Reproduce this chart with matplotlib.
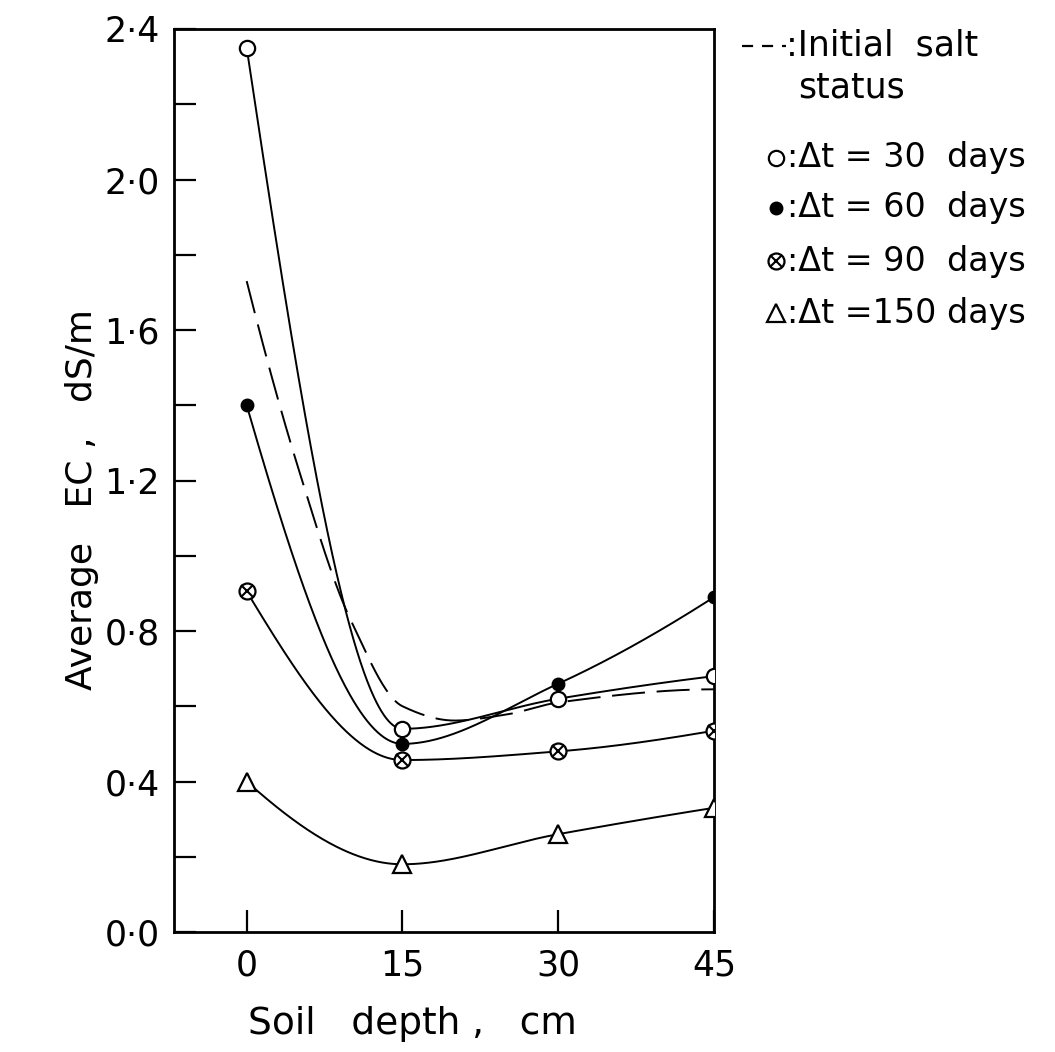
import numpy as np
import matplotlib
matplotlib.use("Agg")
import matplotlib.pyplot as plt
from matplotlib.lines import Line2D
from matplotlib.ticker import FixedLocator, FixedFormatter, MultipleLocator

plt.rcParams['font.family'] = ['DejaVu Sans']

# Soil depth (cm) and average EC (dS/m) after each time interval
depth = [0, 15, 30, 45]
ec_30_days = [2.35, 0.54, 0.62, 0.68]
ec_60_days = [1.40, 0.50, 0.66, 0.89]
ec_90_days = [0.905, 0.457, 0.48, 0.535]
ec_150_days = [0.40, 0.18, 0.26, 0.33]

# Initial salt status profile
initial_depth = [0, 5, 10, 15, 20, 25, 30, 45]
initial_ec = [1.73, 1.23, 0.83, 0.60, 0.562, 0.578, 0.61, 0.645]

x_tick_values = [0, 15, 30, 45]
x_tick_labels = ['0', '15', '30', '45']
y_tick_values = [0.0, 0.4, 0.8, 1.2, 1.6, 2.0, 2.4]
y_tick_labels = ['0·0', '0·4', '0·8', '1·2', '1·6', '2·0', '2·4']

legend_labels = [':Δt = 30  days', ':Δt = 60  days', ':Δt = 90  days', ':Δt =150 days']


def pchip(x, y, xs):
    """Shape-preserving piecewise cubic Hermite curve through (x, y)."""
    x = np.asarray(x, float)
    y = np.asarray(y, float)
    h = np.diff(x)
    delta = np.diff(y) / h
    n = len(x)
    d = np.zeros(n)
    for k in range(1, n - 1):
        if delta[k - 1] * delta[k] > 0:
            w1 = 2 * h[k] + h[k - 1]
            w2 = h[k] + 2 * h[k - 1]
            d[k] = (w1 + w2) / (w1 / delta[k - 1] + w2 / delta[k])

    def end_slope(h0, h1, d0, d1):
        s = ((2 * h0 + h1) * d0 - h0 * d1) / (h0 + h1)
        if np.sign(s) != np.sign(d0):
            return 0.0
        if np.sign(d0) != np.sign(d1) and abs(s) > 3 * abs(d0):
            return 3 * d0
        return s

    d[0] = end_slope(h[0], h[1], delta[0], delta[1])
    d[-1] = end_slope(h[-1], h[-2], delta[-1], delta[-2])
    xs = np.asarray(xs, float)
    idx = np.clip(np.searchsorted(x, xs) - 1, 0, n - 2)
    t = (xs - x[idx]) / h[idx]
    h00 = 2 * t**3 - 3 * t**2 + 1
    h10 = t**3 - 2 * t**2 + t
    h01 = -2 * t**3 + 3 * t**2
    h11 = t**3 - t**2
    return (h00 * y[idx] + h10 * h[idx] * d[idx]
            + h01 * y[idx + 1] + h11 * h[idx] * d[idx + 1])


W, H = 1055, 1052
fig = plt.figure(figsize=(W / 100, H / 100), dpi=100)
ax = fig.add_axes([174 / W, 1 - 932 / H, (714 - 174) / W, (932 - 29) / H])
ax.set_xlim(-7.0, 45)
ax.set_ylim(0, 2.4)

lw = 1.4
xs = np.linspace(0, 45, 400)

# Initial salt status (dashed)
ax.plot(xs, pchip(initial_depth, initial_ec, xs), color='black', lw=lw,
        linestyle=(0, (17, 6)), zorder=2)

series = [
    (ec_30_days, dict(marker='o', ms=11, mfc='white', mec='black', mew=1.6)),
    (ec_60_days, dict(marker='o', ms=9, mfc='black', mec='black', mew=1.0)),
    (ec_90_days, dict(marker='o', ms=11.5, mfc='white', mec='black', mew=1.6)),
    (ec_150_days, dict(marker='^', ms=12.5, mfc='white', mec='black', mew=1.6)),
]
for values, style in series:
    ax.plot(xs, pchip(depth, values, xs), color='black', lw=lw, zorder=2)
    ax.plot(depth, values, linestyle='none', zorder=3, **style)
# cross inside the 90-day circles
ax.plot(depth, ec_90_days, linestyle='none', marker='x', ms=8,
        mec='black', mew=1.5, zorder=4)

for s in ax.spines.values():
    s.set_linewidth(2.0)

ax.xaxis.set_major_locator(FixedLocator(x_tick_values))
ax.xaxis.set_major_formatter(FixedFormatter(x_tick_labels))
ax.yaxis.set_major_locator(FixedLocator(y_tick_values))
ax.yaxis.set_major_formatter(FixedFormatter(y_tick_labels))
ax.yaxis.set_minor_locator(MultipleLocator(0.2))
ax.tick_params(axis='both', which='both', direction='in', length=16,
               width=1.6, labelsize=25, top=False, right=False)
ax.tick_params(axis='y', which='both', pad=10)
ax.tick_params(axis='x', which='major', pad=12)


def fx(px):
    return px / W


def fy(py):
    return 1 - py / H


fig.text(fx(82), fy(500), 'Average   EC ,   dS/m', rotation=90,
         ha='center', va='center', fontsize=26)
fig.text(fx(412), fy(1024), 'Soil   depth ,   cm', ha='center', va='center',
         fontsize=27)

# Key on the right-hand side
fig.add_artist(Line2D([fx(742), fx(786)], [fy(46), fy(46)], color='black',
                      lw=1.6, linestyle=(0, (5, 4))))
fig.text(fx(786), fy(46), ':Initial  salt', ha='left', va='center', fontsize=25)
fig.text(fx(798), fy(88), 'status', ha='left', va='center', fontsize=25)

row_y = [158, 208, 261, 313]
key_styles = [s for _, s in series]
for yy, label, style in zip(row_y, legend_labels, key_styles):
    fig.add_artist(Line2D([fx(776)], [fy(yy)], linestyle='none', **style))
    fig.text(fx(787), fy(yy), label, ha='left', va='center', fontsize=24)
fig.add_artist(Line2D([fx(776)], [fy(row_y[2])], linestyle='none',
                      marker='x', ms=8, mec='black', mew=1.5))

fig.savefig('out.png', dpi=100)
